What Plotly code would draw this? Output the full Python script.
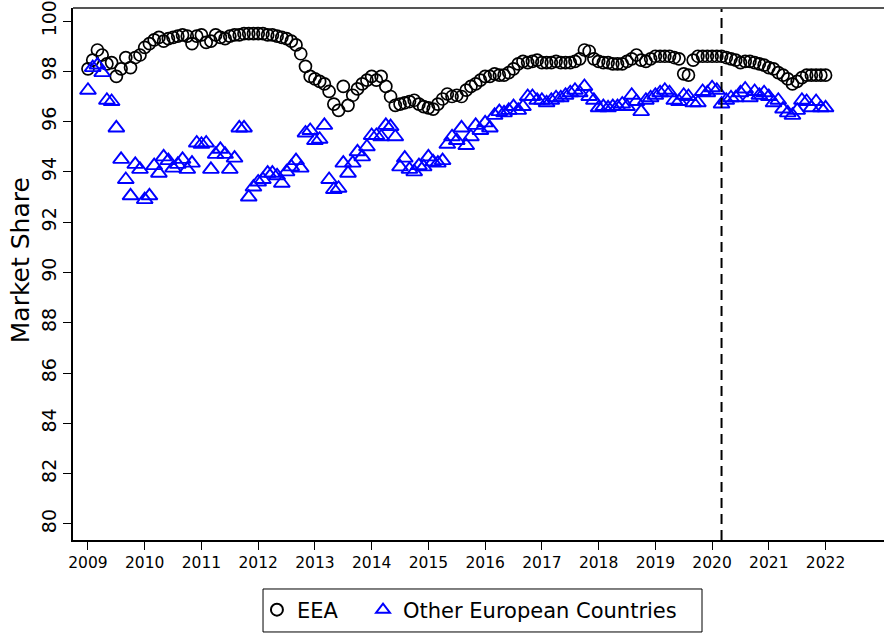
import plotly.graph_objects as go

# Monthly series, January 2009 to January 2022
start_year = 2009
eea = [
    98.1, 98.45, 98.85, 98.65, 98.3, 98.35, 97.8, 98.1, 98.55, 98.15, 98.55, 98.65,
    98.95, 99.1, 99.25, 99.35, 99.2, 99.3, 99.35, 99.4, 99.45, 99.4, 99.1, 99.4,
    99.45, 99.15, 99.2, 99.45, 99.35, 99.3, 99.4, 99.45, 99.45, 99.5, 99.5, 99.5,
    99.5, 99.5, 99.45, 99.45, 99.4, 99.35, 99.3, 99.2, 99.05, 98.7, 98.2, 97.8,
    97.7, 97.6, 97.5, 97.2, 96.7, 96.45, 97.4, 96.65, 97.05, 97.3, 97.5, 97.65,
    97.8, 97.65, 97.8, 97.4, 97.0, 96.65, 96.7, 96.75, 96.8, 96.85, 96.7, 96.6,
    96.55, 96.5, 96.7, 96.9, 97.1, 97.0, 97.05, 97.0, 97.25, 97.4, 97.5, 97.65,
    97.8, 97.8, 97.9, 97.85, 97.85, 97.95, 98.1, 98.3, 98.4, 98.35, 98.4, 98.45,
    98.35, 98.35, 98.35, 98.4, 98.35, 98.35, 98.35, 98.4, 98.5, 98.85, 98.8, 98.5,
    98.4, 98.35, 98.35, 98.3, 98.3, 98.3, 98.4, 98.5, 98.65, 98.45, 98.4, 98.5,
    98.6, 98.6, 98.6, 98.6, 98.55, 98.5, 97.9, 97.85, 98.45, 98.6, 98.6, 98.6,
    98.6, 98.6, 98.6, 98.55, 98.5, 98.45, 98.35, 98.4, 98.4, 98.35, 98.3, 98.25,
    98.15, 98.1, 97.95, 97.85, 97.7, 97.5, 97.6, 97.75, 97.85, 97.85, 97.85, 97.85,
    97.85,
]
other_europe = [
    97.25, 98.15, 98.25, 97.95, 96.85, 96.8, 95.75, 94.5, 93.7, 93.05, 94.3, 94.1,
    92.9, 93.05, 94.25, 93.95, 94.6, 94.45, 94.15, 94.3, 94.5, 94.1, 94.35, 95.15,
    95.1, 95.15, 94.1, 94.7, 94.9, 94.7, 94.1, 94.55, 95.75, 95.75, 93.0, 93.4,
    93.6, 93.7, 93.95, 93.95, 93.85, 93.55, 94.0, 94.2, 94.45, 94.15, 95.55, 95.65,
    95.25, 95.3, 95.85, 93.7, 93.3, 93.35, 94.35, 93.95, 94.35, 94.8, 94.6, 95.0,
    95.45, 95.45, 95.4, 95.85, 95.8, 95.4, 94.2, 94.55, 94.1, 94.0, 94.25, 94.2,
    94.6, 94.4, 94.35, 94.45, 95.1, 95.4, 95.25, 95.75, 95.05, 95.4, 95.85, 95.65,
    95.95, 95.75, 96.25, 96.4, 96.35, 96.45, 96.6, 96.45, 96.6, 97.0, 97.0, 96.85,
    96.85, 96.75, 96.85, 96.95, 96.95, 97.05, 97.15, 97.25, 97.15, 97.4, 97.0, 96.85,
    96.55, 96.6, 96.55, 96.6, 96.6, 96.7, 96.6, 97.05, 96.8, 96.4, 96.85, 96.95,
    97.05, 97.15, 97.25, 97.15, 96.85, 96.8, 97.05, 97.0, 96.75, 96.75, 97.2, 97.15,
    97.35, 97.25, 96.7, 96.85, 96.95, 96.95, 97.15, 97.3, 96.95, 97.2, 97.05, 97.15,
    97.0, 96.75, 96.85, 96.5, 96.35, 96.25, 96.45, 96.85, 96.8, 96.55, 96.8, 96.55,
    96.55,
]
dates = [start_year + i / 12 for i in range(len(eea))]

x_ticks = list(range(2009, 2023))
y_ticks = list(range(80, 101, 2))
covid_break = 2020 + 2 / 12  # March 2020

font_family = "DejaVu Sans"

fig = go.Figure()
fig.add_trace(go.Scatter(
    x=dates, y=eea, mode="markers", name="EEA", legend="legend",
    marker=dict(symbol="circle-open", size=12, color="black",
                line=dict(width=1.7, color="black")),
))
fig.add_trace(go.Scatter(
    x=dates, y=other_europe, mode="markers", name="Other European Countries",
    legend="legend2",
    marker=dict(symbol="triangle-up-open", size=14, color="#0000ff",
                line=dict(width=1.9, color="#0000ff")),
))

# vertical break line
fig.add_shape(type="line", xref="x", yref="paper",
              x0=covid_break, x1=covid_break, y0=0, y1=1,
              line=dict(color="black", width=2, dash="10px,6px"))
# top frame line
fig.add_shape(type="line", xref="paper", yref="paper",
              x0=0, x1=1, y0=1, y1=1,
              line=dict(color="#555555", width=2))
# frame around the legend entries
fig.add_shape(type="rect", xref="paper", yref="paper",
              x0=0.2343, x1=0.7756, y0=-0.1729, y1=-0.0921,
              line=dict(color="black", width=1), fillcolor="rgba(0,0,0,0)")

# y-axis title
fig.add_annotation(
    text="Market Share", textangle=-90, showarrow=False,
    xref="paper", yref="paper", x=-0.0653, y=0.526,
    xanchor="center", yanchor="middle", font=dict(size=25),
)

legend_common = dict(
    orientation="h", yanchor="middle", y=-0.1316, xanchor="left",
    bgcolor="rgba(0,0,0,0)", borderwidth=0, font=dict(size=21),
    itemsizing="constant",
)

fig.update_layout(
    width=884, height=633,
    margin=dict(l=73, r=0, t=8, b=93),
    paper_bgcolor="white", plot_bgcolor="white",
    font=dict(family=font_family, color="black"),
    showlegend=True,
    legend=dict(x=0.2268, **legend_common),
    legend2=dict(x=0.3576, **legend_common),
    xaxis=dict(
        range=[2008.736, 2023.03], tickmode="array", tickvals=x_ticks,
        ticktext=[str(t) for t in x_ticks],
        showgrid=False, zeroline=False, showline=True, linecolor="black",
        linewidth=1.5, ticks="outside", ticklen=8, tickwidth=1.2,
        tickcolor="black", tickfont=dict(size=15.5),
    ),
    yaxis=dict(
        range=[79.36, 100.52], tickmode="array", tickvals=y_ticks,
        showgrid=False, zeroline=False, showline=True, linecolor="black",
        linewidth=1.5, ticks="outside", ticklen=8, tickwidth=1.2,
        tickcolor="black", tickangle=-90, tickfont=dict(size=19),
    ),
)

fig.write_html("out.html")
